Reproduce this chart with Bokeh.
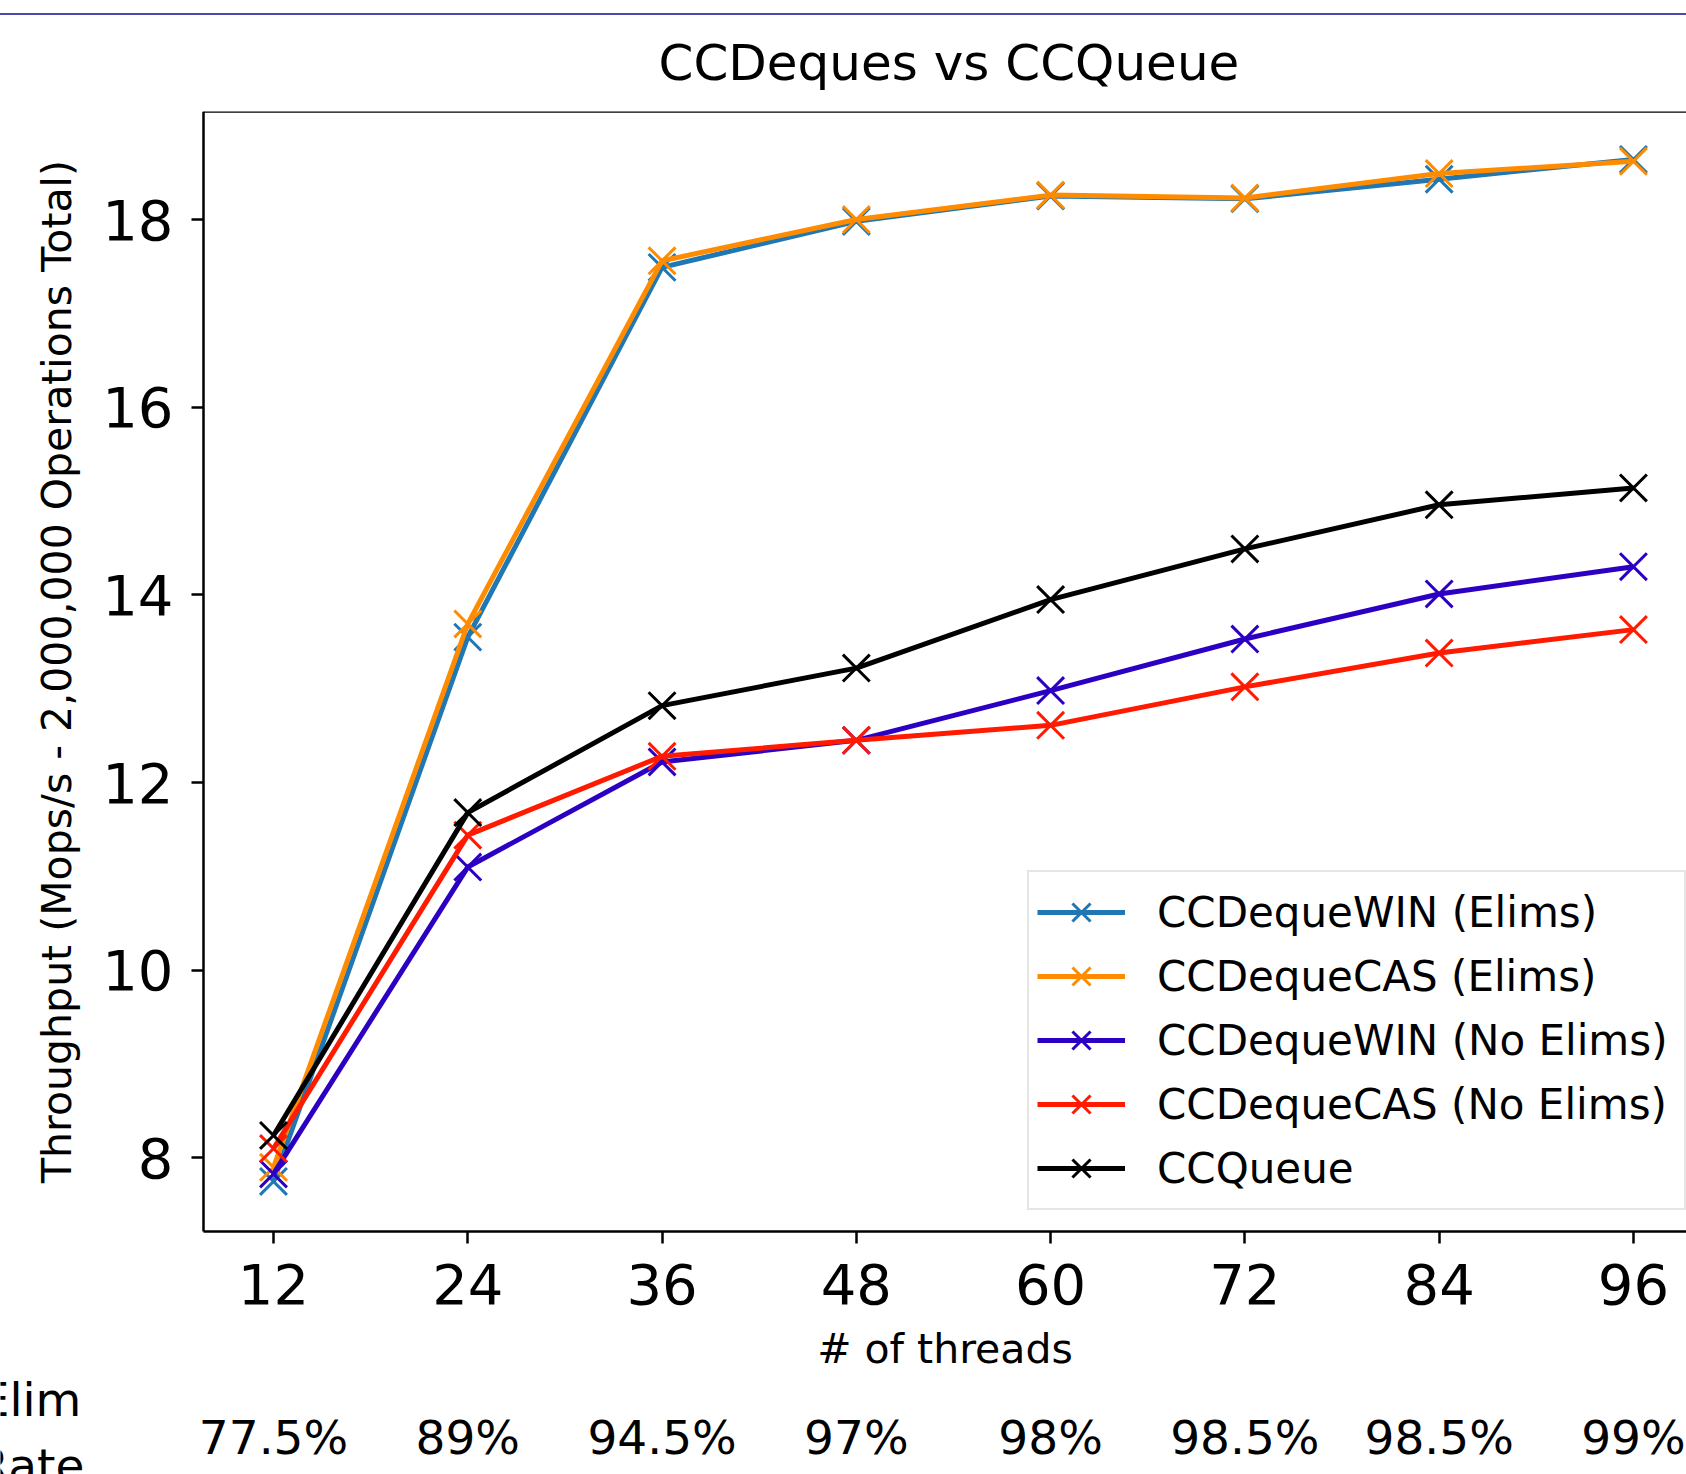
from bokeh.plotting import figure
from bokeh.models import (Range1d, FixedTicker, Legend, LegendItem, Label,
                          LabelSet, ColumnDataSource, Div, LinearAxis)
from bokeh.layouts import column
from bokeh.embed import file_html
from bokeh.resources import INLINE
from bokeh.core.properties import value

# ---------------- data ----------------
threads = [12, 24, 36, 48, 60, 72, 84, 96]
win_elims = [7.75, 13.55, 17.49, 17.98, 18.25, 18.22, 18.43, 18.64]
cas_elims = [7.90, 13.69, 17.56, 18.00, 18.26, 18.23, 18.49, 18.62]
win_no_elims = [7.83, 11.10, 12.22, 12.45, 12.98, 13.53, 14.01, 14.30]
cas_no_elims = [8.10, 11.44, 12.28, 12.45, 12.61, 13.02, 13.38, 13.63]
ccqueue = [8.24, 11.68, 12.82, 13.22, 13.95, 14.49, 14.96, 15.14]
series_names = ["CCDequeWIN (Elims)", "CCDequeCAS (Elims)", "CCDequeWIN (No Elims)",
                "CCDequeCAS (No Elims)", "CCQueue"]
y_ticks = [8, 10, 12, 14, 16, 18]
elim_rates = ["77.5%", "89%", "94.5%", "97%", "98%", "98.5%", "98.5%", "99%"]
elim_label = ["Elim", "Rate"]

FONT = "DejaVu Sans"
colors = ["#1f77b4", "#ff8c00", "#2c00c2", "#ff1a00", "#000000"]
values = [win_elims, cas_elims, win_no_elims, cas_no_elims, ccqueue]

# axes box limits (matplotlib-like 5% margins; right side runs past the window)
X0, X1 = 7.676, 99.278
Y0, Y1 = 7.213, 19.151
# the canvas frame also holds the area left of / below the axes box
FX0, FY0 = -4.862, 4.627

W = 1686
p = figure(width=W, height=1459,
           x_range=Range1d(FX0, X1), y_range=Range1d(FY0, Y1),
           output_backend="svg", toolbar_location=None,
           min_border_left=0, min_border_right=0, min_border_top=94,
           min_border_bottom=0, title="CCDeques vs CCQueue")
p.outline_line_color = None
p.xgrid.visible = False
p.ygrid.visible = False
p.background_fill_color = "white"
p.border_fill_color = "white"

p.title.text_font = FONT
p.title.text_font_size = "50px"
p.title.text_font_style = "normal"
p.title.text_color = "black"
p.title.align = "left"
p.title.offset = 658
p.title.vertical_align = "top"
p.title.standoff = 36

xax = p.xaxis[0]
yax = p.yaxis[0]
top_ax = LinearAxis(ticker=FixedTicker(ticks=[]), major_label_text_font_size="0px",
                    major_tick_out=0, major_tick_in=0, minor_tick_out=0, minor_tick_in=0)
p.add_layout(top_ax, "above")

for ax in (xax, yax, top_ax):
    ax.axis_line_width = 2.5
    ax.axis_line_color = "black"
for ax in (xax, yax):
    ax.major_tick_line_width = 2.5
    ax.major_tick_line_color = "black"
    ax.major_tick_out = 12
    ax.major_tick_in = 0
    ax.minor_tick_line_color = None
    ax.major_label_text_font = FONT
    ax.major_label_text_font_size = "56px"
    ax.major_label_text_color = "black"
    ax.axis_label_text_font = FONT
    ax.axis_label_text_font_size = "41px"
    ax.axis_label_text_font_style = "normal"
    ax.axis_label_text_color = "black"

xax.fixed_location = Y0
xax.bounds = (X0, X1)
yax.fixed_location = X0
yax.bounds = (Y0, Y1)
top_ax.fixed_location = Y1
top_ax.bounds = (X0, X1)

xax.ticker = FixedTicker(ticks=threads)
yax.ticker = FixedTicker(ticks=y_ticks)
xax.axis_label = "# of threads"
yax.axis_label = "Throughput (Mops/s - 2,000,000 Operations Total)"
xax.major_label_standoff = 20
yax.major_label_standoff = 18
xax.axis_label_standoff = 18
yax.axis_label_standoff = 18

items = []
for name, ys, color in zip(series_names, values, colors):
    src = ColumnDataSource(dict(x=threads, y=ys))
    ln = p.line("x", "y", source=src, line_color=color, line_width=5)
    sc = p.scatter("x", "y", source=src, marker="x", size=38,
                   line_color=color, line_width=3)
    items.append(LegendItem(label=name, renderers=[ln, sc]))

legend = Legend(items=items, location=(1027, 264),
                label_text_font=FONT, label_text_font_size="42px",
                label_text_color="black",
                glyph_width=88, glyph_height=64, label_height=64,
                spacing=0, padding=8, margin=0, label_standoff=32,
                label_width=519,
                border_line_color="#cccccc", border_line_width=2,
                background_fill_color="white", background_fill_alpha=0.8)
p.add_layout(legend)

# elimination rate row under the x axis
rate_src = ColumnDataSource(dict(x=threads, text=elim_rates))
p.add_layout(LabelSet(x="x", y=21, y_units="screen", text="text", source=rate_src,
                      text_align="center", text_baseline="alphabetic",
                      text_font=value(FONT), text_font_size="47px",
                      text_color="black"))
for txt, yy in zip(elim_label, [75, 9]):
    p.add_layout(Label(x=30, y=yy, x_units="screen", y_units="screen", text=txt,
                       text_align="center", text_baseline="middle",
                       text_font=FONT, text_font_size="47px", text_color="black"))

# window border line above the chart
bar = Div(text='<div style="width:%dpx;height:13px"></div>'
               '<div style="width:%dpx;height:2px;background:#4a4aa8"></div>' % (W, W),
          width=W, height=15, margin=0)

layout = column(bar, p, spacing=0)
open("out.html", "w").write(file_html(layout, INLINE))
